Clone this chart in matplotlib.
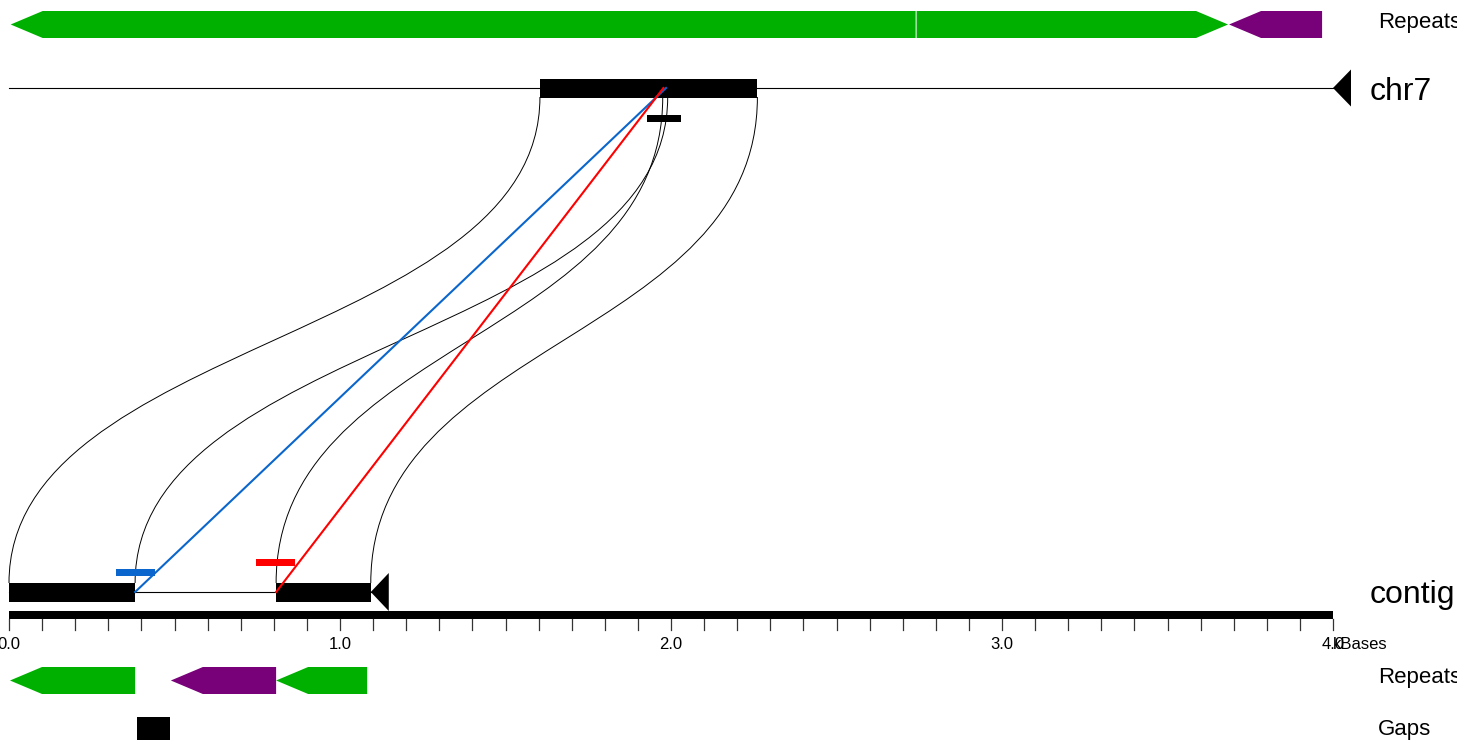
import numpy as np
import matplotlib.pyplot as plt
from matplotlib.path import Path
from matplotlib.patches import PathPatch, Polygon, Rectangle

plt.rcParams['font.family'] = ['Liberation Sans', 'DejaVu Sans']

# alignment blocks (kb): contig interval <-> chr7 interval
contig_starts = [0.000, 0.807]
contig_ends = [0.381, 1.093]
chr7_starts = [1.604, 1.975]
chr7_ends = [1.990, 2.261]

contig_length = 1.093
chr7_length = 4.0

# diagonal match lines: contig position -> chr7 position
match_contig = [0.381, 0.807]
match_chr7 = [1.985, 1.977]
match_colors = ['#0a66cc', '#ff0000']

# small dash markers (kb)
dash_starts = [0.323, 0.746]
dash_ends = [0.441, 0.864]
chr7_dash = (1.928, 2.031)

# repeats: start, end, strand, colour
top_rep_start = [0.005, 2.742, 3.686]
top_rep_end = [2.739, 3.683, 3.967]
top_rep_strand = ['-', '+', '-']
top_rep_color = ['#00b000', '#00b000', '#780078']

bot_rep_start = [0.003, 0.489, 0.807]
bot_rep_end = [0.381, 0.807, 1.082]
bot_rep_strand = ['-', '-', '-']
bot_rep_color = ['#00b000', '#780078', '#00b000']

gap_start = [0.387]
gap_end = [0.487]

tick_step = 0.1
label_ticks = [0.0, 1.0, 2.0, 3.0, 4.0]

# layout (rows in pixels, x in kb)
PX = 331.0
X0 = -9 / PX
fig = plt.figure(figsize=(14.57, 7.40), dpi=100)
ax = fig.add_axes([0, 0, 1, 1])
ax.set_xlim(X0, X0 + 1457 / PX)
ax.set_ylim(740, 0)
ax.axis('off')

head = 32 / PX
tri = 18 / PX


def arrow(ax, s, e, strand, yc, h, color):
    hl = min(head, e - s)
    top, bot = yc - h / 2, yc + h / 2
    if strand == '-':
        pts = [(s, yc), (s + hl, top), (e, top), (e, bot), (s + hl, bot)]
    else:
        pts = [(s, top), (e - hl, top), (e, yc), (e - hl, bot), (s, bot)]
    ax.add_patch(Polygon(pts, closed=True, facecolor=color, edgecolor='none'))


# top repeats
for s, e, st, c in zip(top_rep_start, top_rep_end, top_rep_strand, top_rep_color):
    arrow(ax, s, e, st, 24.5, 27, c)

# chr7 line and blocks
chr_y = 88
ax.plot([0, chr7_length], [chr_y, chr_y], color='black', lw=0.8)
ax.add_patch(Polygon([(chr7_length, chr_y), (chr7_length + tri, chr_y - 18.5),
                      (chr7_length + tri, chr_y + 18.5)], facecolor='black'))
for s, e in zip(chr7_starts, chr7_ends):
    ax.add_patch(Rectangle((s, 79), e - s, 18.5, facecolor='black', edgecolor='none'))
ax.add_patch(Rectangle((chr7_dash[0], 115), chr7_dash[1] - chr7_dash[0], 7,
                       facecolor='black', edgecolor='none'))

# contig line and blocks
ctg_y = 592
ax.plot([0, contig_length], [ctg_y, ctg_y], color='black', lw=0.8)
ax.add_patch(Polygon([(contig_length, ctg_y), (contig_length + tri, ctg_y - 19),
                      (contig_length + tri, ctg_y + 19)], facecolor='black'))
for s, e in zip(contig_starts, contig_ends):
    ax.add_patch(Rectangle((s, 583), e - s, 19, facecolor='black', edgecolor='none'))

# curved outlines of each aligned block
y_lo, y_hi, y_mid = 583, 97, 340
pairs = [(contig_starts[0], chr7_starts[0]), (contig_ends[0], chr7_ends[0]),
         (contig_starts[1], chr7_starts[1]), (contig_ends[1], chr7_ends[1])]
for xc, xg in pairs:
    verts = [(xc, y_lo), (xc, y_mid), (xg, y_mid), (xg, y_hi)]
    codes = [Path.MOVETO, Path.CURVE4, Path.CURVE4, Path.CURVE4]
    ax.add_patch(PathPatch(Path(verts, codes), facecolor='none', edgecolor='black', lw=0.7))

# match lines and dash markers
for xc, xg, c in zip(match_contig, match_chr7, match_colors):
    ax.plot([xc, xg], [ctg_y, chr_y], color=c, lw=1.5)
for s, e, c, y in zip(dash_starts, dash_ends, match_colors, [569, 559]):
    ax.add_patch(Rectangle((s, y), e - s, 7, facecolor=c, edgecolor='none'))

# scale bar
ax.add_patch(Rectangle((0, 611), chr7_length, 8, facecolor='black', edgecolor='none'))
ticks = np.round(np.arange(0, chr7_length + tick_step / 2, tick_step), 2)
for t in ticks:
    ax.plot([t, t], [619, 630], color='#333333', lw=0.9)
for t in label_ticks:
    ax.text(t, 649, f'{t:.1f}', ha='center', va='baseline', fontsize=12)
ax.text(chr7_length, 649, 'kBases', ha='left', va='baseline', fontsize=12)

# bottom repeats and gaps
for s, e, st, c in zip(bot_rep_start, bot_rep_end, bot_rep_strand, bot_rep_color):
    arrow(ax, s, e, st, 680.5, 27, c)
for s, e in zip(gap_start, gap_end):
    ax.add_patch(Rectangle((s, 717), e - s, 27, facecolor='black', edgecolor='none'))

# track labels
lx = (1378 - 9) / PX
nx = (1370 - 9) / PX
ax.text(lx, 28, 'Repeats', va='baseline', fontsize=16)
ax.text(nx, 100, 'chr7', va='baseline', fontsize=23)
ax.text(nx, 603, 'contig', va='baseline', fontsize=23)
ax.text(lx, 683, 'Repeats', va='baseline', fontsize=16)
ax.text(lx, 735, 'Gaps', va='baseline', fontsize=16)

plt.savefig('out.png', dpi=100)
